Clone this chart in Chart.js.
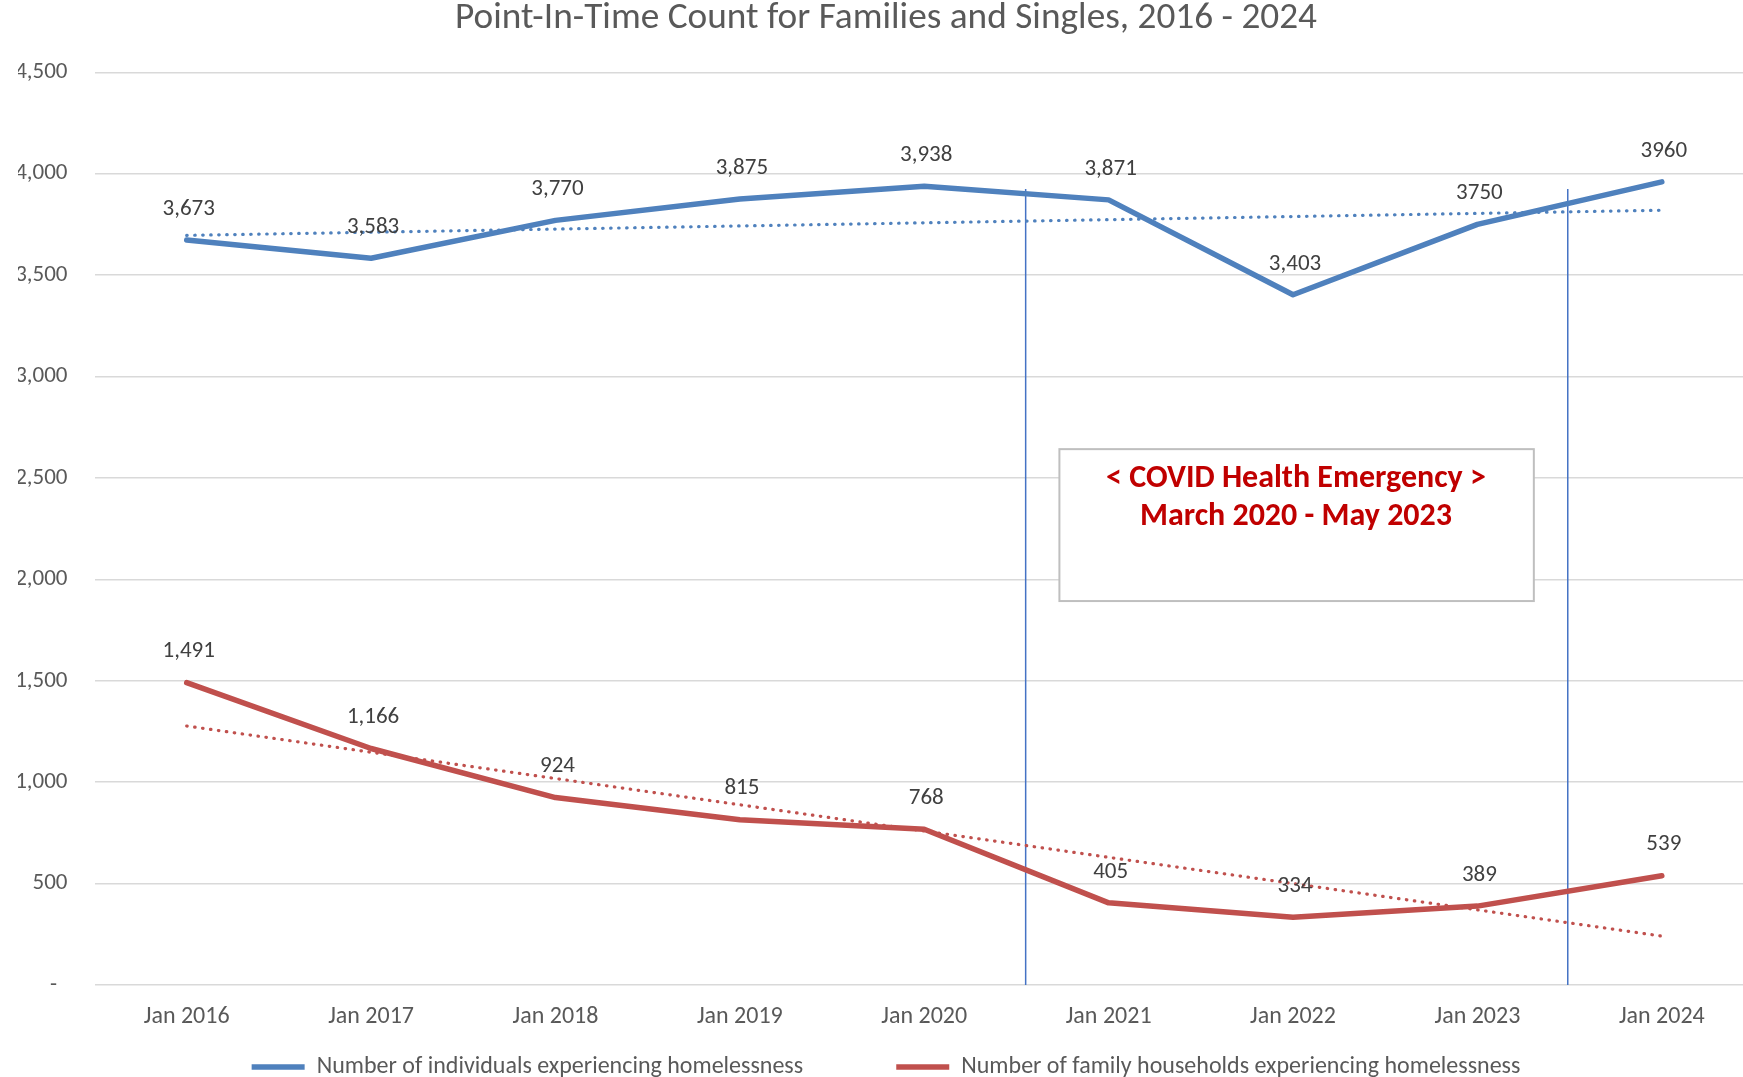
<!DOCTYPE html>
<html>
<head>
<meta charset="utf-8">
<script src="https://cdn.jsdelivr.net/npm/chart.js@4/dist/chart.umd.min.js"></script>
<style>
  html, body { margin: 0; padding: 0; background: #ffffff; overflow: hidden; }
  #wrap { position: relative; width: 1772px; height: 1089px; }
</style>
</head>
<body>
<div id="wrap"><canvas id="c"></canvas></div>
<script>
// ---- data ----
const categories = ['Jan 2016','Jan 2017','Jan 2018','Jan 2019','Jan 2020','Jan 2021','Jan 2022','Jan 2023','Jan 2024'];
const individuals = [3673, 3583, 3770, 3875, 3938, 3871, 3403, 3750, 3960];
const families = [1491, 1166, 924, 815, 768, 405, 334, 389, 539];
const individualsLabels = ['3,673','3,583','3,770','3,875','3,938','3,871','3,403','3750','3960'];
const familiesLabels = ['1,491','1,166','924','815','768','405','334','389','539'];
const trendX = [0, 8];
const individualsTrend = [3696, 3820];
const familiesTrend = [1277, 241];
const covidLineX = [4.55, 7.49];
const covidLineTop = 3925;
const boxText = ['< COVID Health Emergency >', 'March 2020 - May 2023'];
const boxRange = { x: [4.733, 7.306], y: [1893, 2642], textX: 6.016 };
const yMin = 0, yMax = 4500, yStep = 500;
const titleText = 'Point-In-Time Count for Families and Singles, 2016 - 2024';
const seriesNames = ['Number of individuals experiencing homelessness', 'Number of family households experiencing homelessness'];

const FONT = 'Carlito, Lato, "Liberation Sans", sans-serif';
const BLUE = '#4F81BD';
const RED = '#C0504D';
const PLOT_BOTTOM = 985;

const dataLabelPlugin = {
  id: 'dataLabels',
  afterDatasetsDraw(chart) {
    const ctx = chart.ctx;
    const sets = [[0, individualsLabels], [1, familiesLabels]];
    ctx.save();
    ctx.font = '23px ' + FONT;
    ctx.fillStyle = '#404040';
    ctx.textAlign = 'center';
    ctx.textBaseline = 'middle';
    sets.forEach(([idx, labels]) => {
      const meta = chart.getDatasetMeta(idx);
      meta.data.forEach((pt, i) => {
        ctx.fillText(labels[i], pt.x + 2, pt.y - 31);
      });
    });
    ctx.restore();
  }
};

const boxPlugin = {
  id: 'covidBox',
  afterDatasetsDraw(chart) {
    const ctx = chart.ctx;
    const xs = chart.scales.x2, ys = chart.scales.y;
    const l = xs.getPixelForValue(boxRange.x[0]);
    const r = xs.getPixelForValue(boxRange.x[1]);
    const t = ys.getPixelForValue(boxRange.y[1]);
    const b = ys.getPixelForValue(boxRange.y[0]);
    ctx.save();
    ctx.fillStyle = '#ffffff';
    ctx.fillRect(l, t, r - l, b - t);
    ctx.strokeStyle = '#BFBFBF';
    ctx.lineWidth = 2;
    ctx.strokeRect(l, t, r - l, b - t);
    ctx.font = 'bold 32px ' + FONT;
    ctx.fillStyle = '#C00000';
    ctx.textAlign = 'center';
    ctx.textBaseline = 'middle';
    const cx = xs.getPixelForValue(boxRange.textX);
    ctx.fillText(boxText[0], cx, t + 30);
    ctx.fillText(boxText[1], cx, t + 68);
    ctx.restore();
  }
};

new Chart(document.getElementById('c'), {
  type: 'line',
  data: {
    labels: categories,
    datasets: [
      {
        label: seriesNames[0],
        data: individuals,
        borderColor: BLUE,
        backgroundColor: BLUE,
        borderWidth: 5.5,
        pointRadius: 0,
        tension: 0,
        borderJoinStyle: 'round',
        borderCapStyle: 'round'
      },
      {
        label: seriesNames[1],
        data: families,
        borderColor: RED,
        backgroundColor: RED,
        borderWidth: 5.5,
        pointRadius: 0,
        tension: 0,
        borderJoinStyle: 'round',
        borderCapStyle: 'round'
      },
      {
        label: 'trend-individuals',
        xAxisID: 'x2',
        data: trendX.map((x, i) => ({ x: x, y: individualsTrend[i] })),
        borderColor: BLUE,
        borderWidth: 3.2,
        borderDash: [0.5, 7.5],
        borderCapStyle: 'round',
        pointRadius: 0
      },
      {
        label: 'trend-families',
        xAxisID: 'x2',
        data: trendX.map((x, i) => ({ x: x, y: familiesTrend[i] })),
        borderColor: RED,
        borderWidth: 3.2,
        borderDash: [0.5, 7.5],
        borderCapStyle: 'round',
        pointRadius: 0
      },
      {
        label: 'covid-start',
        xAxisID: 'x2',
        data: [{ x: covidLineX[0], y: yMin }, { x: covidLineX[0], y: covidLineTop }],
        borderColor: '#4472C4',
        borderWidth: 1.5,
        pointRadius: 0
      },
      {
        label: 'covid-end',
        xAxisID: 'x2',
        data: [{ x: covidLineX[1], y: yMin }, { x: covidLineX[1], y: covidLineTop }],
        borderColor: '#4472C4',
        borderWidth: 1.5,
        pointRadius: 0
      }
    ]
  },
  options: {
    responsive: true,
    maintainAspectRatio: false,
    animation: false,
    layout: { padding: { left: 18, right: 18, top: 0, bottom: 0 } },
    plugins: {
      title: {
        display: true,
        text: titleText,
        color: '#595959',
        font: { family: FONT, size: 37.3, weight: 'normal', lineHeight: 1.0 },
        padding: { top: 0, bottom: 35 }
      },
      legend: {
        display: true,
        position: 'bottom',
        labels: {
          filter: (item) => item.datasetIndex < 2,
          generateLabels: (chart) => {
            const items = Chart.defaults.plugins.legend.labels.generateLabels(chart);
            items.forEach((it) => {
              if (it.datasetIndex === 0) it.text = it.text + '            ';
            });
            return items;
          },
          usePointStyle: true,
          pointStyle: 'line',
          pointStyleWidth: 53,
          color: '#595959',
          font: { family: FONT, size: 24 },
          padding: 28
        }
      },
      tooltip: { enabled: false }
    },
    scales: {
      x: {
        type: 'category',
        offset: true,
        grid: { display: false, drawTicks: false },
        border: { display: false },
        ticks: { color: '#595959', font: { family: FONT, size: 24 }, padding: 18, maxRotation: 0 },
        afterFit(scale) {
          const lg = scale.chart.legend ? scale.chart.legend.height : 0;
          scale.height = Math.max(10, scale.chart.height - PLOT_BOTTOM - lg);
        }
      },
      x2: {
        type: 'linear',
        display: false,
        min: -0.5,
        max: 8.5
      },
      y: {
        min: yMin,
        max: yMax,
        grid: { color: '#D9D9D9', lineWidth: 1.5, drawTicks: false },
        border: { display: false },
        ticks: {
          stepSize: yStep,
          color: '#595959',
          font: { family: FONT, size: 23 },
          padding: 27,
          callback: (v) => v === 0 ? '-  ' : v.toLocaleString('en-US')
        },
        afterFit(scale) { scale.width = 76.5; }
      }
    }
  },
  plugins: [boxPlugin, dataLabelPlugin]
});
</script>
</body>
</html>
